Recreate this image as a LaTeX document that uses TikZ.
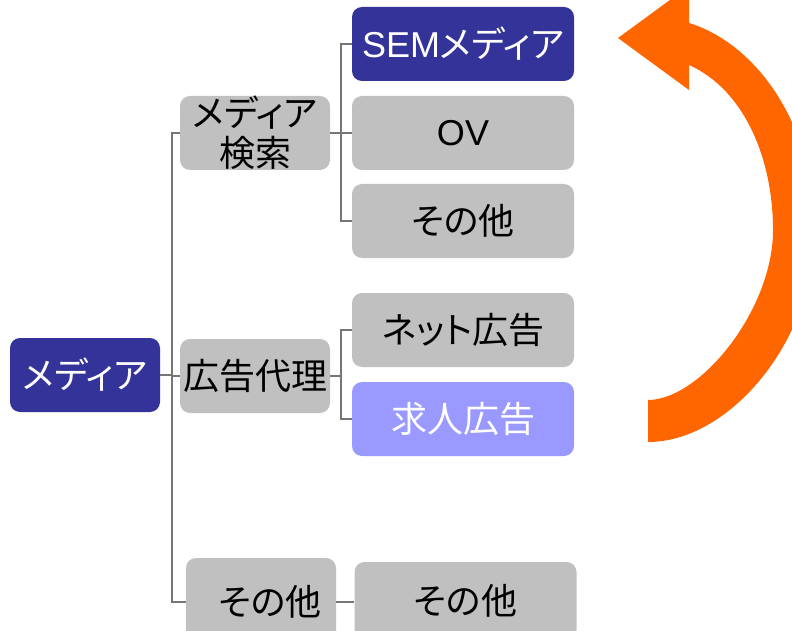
\documentclass[tikz,border=0pt]{standalone}
\usepackage{fontspec}
\setmainfont{Liberation Sans}
\newfontfamily\jp[RawFeature=+palt]{Noto Sans CJK JP}
\usepackage{xcolor}
\usetikzlibrary{calc}

\definecolor{navy}{HTML}{333399}
\definecolor{boxgray}{HTML}{C0C0C0}
\definecolor{lilac}{HTML}{9999FF}
\definecolor{linegray}{HTML}{767676}
\definecolor{arroworange}{HTML}{FF6600}

\begin{document}
\begin{tikzpicture}[x=0.75pt,y=-0.75pt,
  box/.style={rectangle, rounded corners=7.5pt, minimum height=55.5pt, inner sep=0pt, font=\fontsize{27}{30}\selectfont},
  midbox/.style={box, minimum width=112.5pt},
  leafbox/.style={box, minimum width=166.5pt},
  graybox/.style={fill=boxgray, text=black},
  darkbox/.style={fill=navy, text=white},
  link/.style={draw=linegray, line width=1.5pt}]
\useasboundingbox (0,0) rectangle (792,631);
\clip (0,0) rectangle (792,631);

% Root
\node[midbox, darkbox] (root) at (85,375) {\jp メディア};

% Second level
\node[midbox, graybox, align=center] (search) at (255,133) {\jp メディア\\\jp 検索};
\node[midbox, graybox] (agency) at (255,376) {\jp 広告代理};
\node[midbox, graybox, minimum height=66pt] (other2) at (261,602) {\hspace{13.5pt}\jp その他};

% Third level
\node[leafbox, darkbox] (sem) at (463,44) {SEM\jp メディア};
\node[leafbox, graybox] (ov) at (463,133) {OV};
\node[leafbox, graybox] (other3a) at (463,221) {\jp その他};
\node[leafbox, graybox] (net) at (463,330) {\jp ネット広告};
\node[leafbox, fill=lilac, text=white] (job) at (463,419) {\jp 求人広告\hspace{15pt}};
\node[leafbox, graybox, minimum height=58.5pt] (other3b) at (465.5,601) {\jp その他};

% Connectors
\foreach \child in {search, agency, other2}
  \draw[link] (root.east) -- ++(12,0) |- (\child.west);
\foreach \child in {sem, ov, other3a}
  \draw[link] (search.east) -- ++(11,0) |- (\child.west);
\foreach \child in {net, job}
  \draw[link] (agency.east) -- ++(11,0) |- (\child.west);
\draw[link] (other2.east) -- (other2.east -| other3b.west);

% Loop arrow
\fill[arroworange] (689,65) .. controls (745,90) and (773,160) .. (773,230)
  .. controls (773,310) and (700,400) .. (648,400) -- (648,442)
  .. controls (730,442) and (815,340) .. (815,230)
  .. controls (815,130) and (760,45) .. (689,23)
  -- (689,-14) -- (618,38) -- (689,90) -- cycle;
\end{tikzpicture}
\end{document}
